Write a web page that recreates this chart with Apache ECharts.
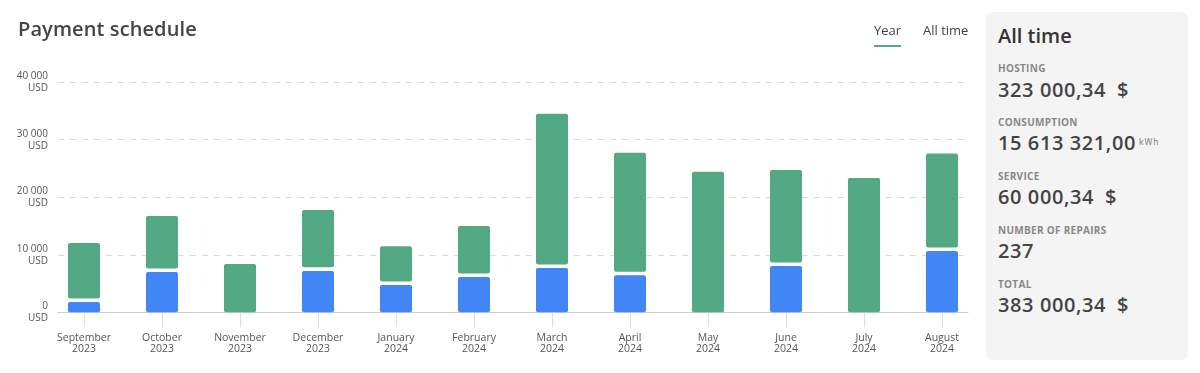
<!DOCTYPE html>
<html><head><meta charset="utf-8">
<script src="https://cdn.jsdelivr.net/npm/echarts@6/dist/echarts.min.js"></script>
<style>
html,body{margin:0;padding:0;background:#fff;}
#wrap{position:relative;width:1200px;height:373px;overflow:hidden;font-family:'Open Sans',sans-serif;}
#chart{position:absolute;left:0;top:0;width:1200px;height:373px;}
.title{position:absolute;left:18px;top:15px;font-size:20px;font-weight:600;color:#444;line-height:28px;letter-spacing:0.1px;}
.tab{position:absolute;top:21px;font-size:13px;color:#444;line-height:18px;}
.tab.active{border-bottom:2px solid #55a985;padding-bottom:6px;}
.side{position:absolute;left:986px;top:12px;width:202px;height:348px;background:#f4f4f4;border-radius:7px;}
.side .h{position:absolute;left:12px;top:10px;font-size:20px;font-weight:600;color:#333;line-height:28px;}
.side .lbl{position:absolute;left:12px;font-size:10px;font-weight:700;color:#888;letter-spacing:0.3px;line-height:14px;}
.side .val{position:absolute;left:12px;font-size:20px;font-weight:600;color:#444;letter-spacing:0.6px;line-height:24px;white-space:nowrap;}
.side .val .cur{margin-left:5px;}
.side .val sup{font-size:8.5px;font-weight:400;color:#777;letter-spacing:1px;vertical-align:top;position:relative;top:-1px;margin-left:3px;}
</style></head>
<body>
<div id="wrap">
<div id="chart"></div>
<div class="title">Payment schedule</div>
<div class="tab active" style="left:874px;">Year</div>
<div class="tab" style="left:923px;">All time</div>
<div class="side">
  <div class="h">All time</div>
  <div class="lbl" style="top:49px;">HOSTING</div>
  <div class="val" style="top:66px;">323 000,34 <span class="cur">$</span></div>
  <div class="lbl" style="top:103px;">CONSUMPTION</div>
  <div class="val" style="top:119px;">15 613 321,00<sup>kWh</sup></div>
  <div class="lbl" style="top:157px;">SERVICE</div>
  <div class="val" style="top:173px;">60 000,34 <span class="cur">$</span></div>
  <div class="lbl" style="top:211px;">NUMBER OF REPAIRS</div>
  <div class="val" style="top:227px;">237</div>
  <div class="lbl" style="top:265px;">TOTAL</div>
  <div class="val" style="top:281px;">383 000,34 <span class="cur">$</span></div>
</div>
</div>
<script>
var months = ['September\n2023','October\n2023','November\n2023','December\n2023','January\n2024','February\n2024','March\n2024','April\n2024','May\n2024','June\n2024','July\n2024','August\n2024'];
var blueValues  = [2100, 7300, 0, 7500, 5050, 6450, 8000, 6750, 0, 8350, 0, 10950];
var greenValues = [9950, 9450, 8400, 10300, 6450, 8550, 26500, 21000, 24450, 16400, 23350, 16650];
var yTicks = [0, 10000, 20000, 30000, 40000];

var BLUE = '#4285f4', GREEN = '#54a985';
var data = months.map(function(m, i){ return [i, blueValues[i], greenValues[i]]; });
function fmt(v){ return String(v).replace(/\B(?=(\d{3})+(?!\d))/g, ' '); }

var chart = echarts.init(document.getElementById('chart'));
chart.setOption({
  animation: false,
  grid: [
    {left: 45, right: 219, top: 82.2, bottom: 60.7},
    {left: 58, right: 232, top: 82.2, bottom: 60.7}
  ],
  xAxis: [
    {type: 'category', gridIndex: 0, data: months,
     axisLine: {show: false},
     axisTick: {show: true, alignWithLabel: true, length: 15, lineStyle: {color: '#dcdcdc'}},
     axisLabel: {margin: 20, fontSize: 10.5, color: '#555', lineHeight: 11, fontFamily: 'Open Sans'}},
    {type: 'value', gridIndex: 1, min: 0, max: 1,
     axisLine: {show: true, lineStyle: {color: '#cccccc'}},
     axisTick: {show: false}, axisLabel: {show: false}, splitLine: {show: false}}
  ],
  yAxis: [
    {type: 'value', gridIndex: 0, min: 0, max: 40000, show: false},
    {type: 'value', gridIndex: 1, min: yTicks[0], max: yTicks[yTicks.length-1], interval: 10000,
     axisLine: {show: false}, axisTick: {show: false},
     axisLabel: {margin: 10, fontSize: 10, color: '#555', lineHeight: 12, fontFamily: 'Open Sans', align: 'right',
       formatter: function(v){ return fmt(v) + '\nUSD'; }},
     splitLine: {show: true, lineStyle: {color: '#d9d9d9', type: [6, 6], width: 1}}}
  ],
  series: [{
    type: 'custom', xAxisIndex: 0, yAxisIndex: 0,
    encode: {x: 0, y: [1, 2]},
    data: data,
    renderItem: function(params, api){
      var idx = api.value(0), b = api.value(1), g = api.value(2);
      var base = api.coord([idx, 0]);
      var w = 32, x = base[0] - w/2, gap = 3.6;
      var yb = api.coord([idx, b])[1];
      var yt = api.coord([idx, b + g])[1];
      var children = [];
      if (b > 0) children.push({type: 'rect', shape: {x: x, y: yb + gap/2, width: w, height: base[1] - yb - gap/2, r: 2}, style: {fill: BLUE}});
      var gb = b > 0 ? yb - gap/2 : base[1];
      children.push({type: 'rect', shape: {x: x, y: yt, width: w, height: gb - yt, r: 2}, style: {fill: GREEN}});
      return {type: 'group', children: children};
    }
  }]
});
</script>
</body></html>
